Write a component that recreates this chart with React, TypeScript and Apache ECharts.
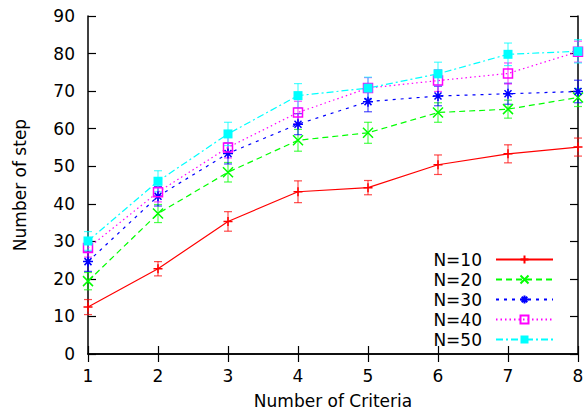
import React, { useEffect, useRef } from "react";
import * as echarts from "echarts";

const criteria = [1, 2, 3, 4, 5, 6, 7, 8];
const seriesNames = ["N=10", "N=20", "N=30", "N=40", "N=50"];
const n10 = [12.5, 22.7, 35.3, 43.2, 44.3, 50.4, 53.3, 55.1];
const n10Err = [2.0, 1.9, 2.6, 2.9, 1.9, 2.6, 2.4, 2.4];
const n20 = [19.4, 37.4, 48.4, 56.9, 58.9, 64.3, 65.2, 68.3];
const n20Err = [2.3, 2.4, 2.6, 2.9, 2.8, 2.6, 2.4, 2.4];
const n30 = [24.6, 42.0, 53.4, 61.2, 67.2, 68.7, 69.3, 69.9];
const n30Err = [2.6, 2.6, 2.8, 2.8, 2.7, 2.6, 2.8, 3.0];
const n40 = [28.2, 43.1, 55.0, 64.3, 70.8, 72.8, 74.7, 80.5];
const n40Err = [2.4, 2.6, 2.8, 3.0, 2.8, 2.9, 2.8, 2.8];
const n50 = [30.1, 46.0, 58.6, 68.8, 70.8, 74.6, 79.8, 80.6];
const n50Err = [2.5, 2.8, 3.1, 3.2, 2.9, 3.1, 3.0, 3.1];

const values = [n10, n20, n30, n40, n50];
const errors = [n10Err, n20Err, n30Err, n40Err, n50Err];
const colors = ["#ff0000", "#00ff00", "#0000ff", "#ff00ff", "#00ffff"];
const dashes: any[] = ["solid", [6, 4], [3, 5], [1.5, 3], [7, 3, 2, 3]];
const symbols = [
  "path://M0,5L10,5M5,0L5,10",
  "path://M0,0L10,10M10,0L0,10",
  "path://M0,5L10,5M5,0L5,10M1.5,1.5L8.5,8.5M8.5,1.5L1.5,8.5",
  "path://M0,0L10,0L10,10L0,10Z",
  "rect",
];
const symbolSizes = [9, 10, 10, 9, 9];
const FONT = "DejaVu Sans, sans-serif";
const FS = 17;

export default function App() {
  const ref = useRef<HTMLDivElement>(null);
  useEffect(() => {
    if (!ref.current) return;
    const chart = echarts.init(ref.current, null, { renderer: "svg" });
    const lineSeries = seriesNames.map((name, i) => ({
      type: "line",
      name,
      data: criteria.map((c, j) => [c, values[i][j]]),
      symbol: symbols[i],
      symbolSize: symbolSizes[i],
      showAllSymbol: true,
      z: 3,
      lineStyle: { color: colors[i], width: 1.2, type: dashes[i] },
      itemStyle: {
        color: i === 3 ? "rgba(0,0,0,0)" : colors[i],
        borderColor: colors[i],
        borderWidth: i === 4 ? 0 : 1.5,
      },
      emphasis: { disabled: true },
    }));
    const errSeries = seriesNames.map((name, i) => ({
      type: "custom",
      name: name + " err",
      z: 2,
      silent: true,
      data: criteria.map((c, j) => [c, values[i][j] - errors[i][j], values[i][j] + errors[i][j]]),
      renderItem: (params: any, api: any) => {
        const lo = api.coord([api.value(0), api.value(1)]);
        const hi = api.coord([api.value(0), api.value(2)]);
        const w = 4;
        const style = { stroke: colors[i], lineWidth: 1.2, opacity: 0.7 };
        return {
          type: "group",
          children: [
            { type: "line", shape: { x1: lo[0], y1: lo[1], x2: hi[0], y2: hi[1] }, style },
            { type: "line", shape: { x1: lo[0] - w, y1: lo[1], x2: lo[0] + w, y2: lo[1] }, style },
            { type: "line", shape: { x1: hi[0] - w, y1: hi[1], x2: hi[0] + w, y2: hi[1] }, style },
          ],
        };
      },
    }));
    const axisLine = { show: true, lineStyle: { color: "#000", width: 1.5 } };
    const tick = { show: true, inside: true, length: 8, lineStyle: { color: "#000", width: 1.2 } };
    const labelStyle = { fontFamily: FONT, fontSize: FS, color: "#000" };
    chart.setOption({
      animation: false,
      backgroundColor: "#fff",
      grid: { left: 88, right: 9, top: 16, bottom: 57 },
      legend: {
        data: seriesNames,
        orient: "vertical",
        right: 28,
        top: 246,
        align: "right",
        itemWidth: 57,
        itemHeight: 10,
        itemGap: 3,
        selectedMode: false,
        textStyle: { ...labelStyle, padding: [0, 9, 0, 0] },
      },
      xAxis: [
        {
          type: "value",
          min: 1,
          max: 8,
          interval: 1,
          name: "Number of Criteria",
          nameLocation: "middle",
          nameGap: 38,
          nameTextStyle: labelStyle,
          axisLine,
          axisTick: tick,
          splitLine: { show: false },
          axisLabel: { ...labelStyle, margin: 13 },
        },
        {
          type: "value",
          position: "top",
          min: 1,
          max: 8,
          interval: 1,
          axisLine,
          axisTick: tick,
          splitLine: { show: false },
          axisLabel: { show: false },
        },
      ],
      yAxis: [
        {
          type: "value",
          min: 0,
          max: 90,
          interval: 10,
          name: "Number of step",
          nameLocation: "middle",
          nameGap: 60,
          nameTextStyle: labelStyle,
          axisLine,
          axisTick: tick,
          splitLine: { show: false },
          axisLabel: { ...labelStyle, margin: 13 },
        },
        {
          type: "value",
          position: "right",
          min: 0,
          max: 90,
          interval: 10,
          axisLine,
          axisTick: tick,
          splitLine: { show: false },
          axisLabel: { show: false },
        },
      ],
      series: [...errSeries, ...lineSeries],
    });
    return () => chart.dispose();
  }, []);
  return <div ref={ref} style={{ width: 587, height: 414, position: "absolute", left: 0, top: 0 }} />;
}
